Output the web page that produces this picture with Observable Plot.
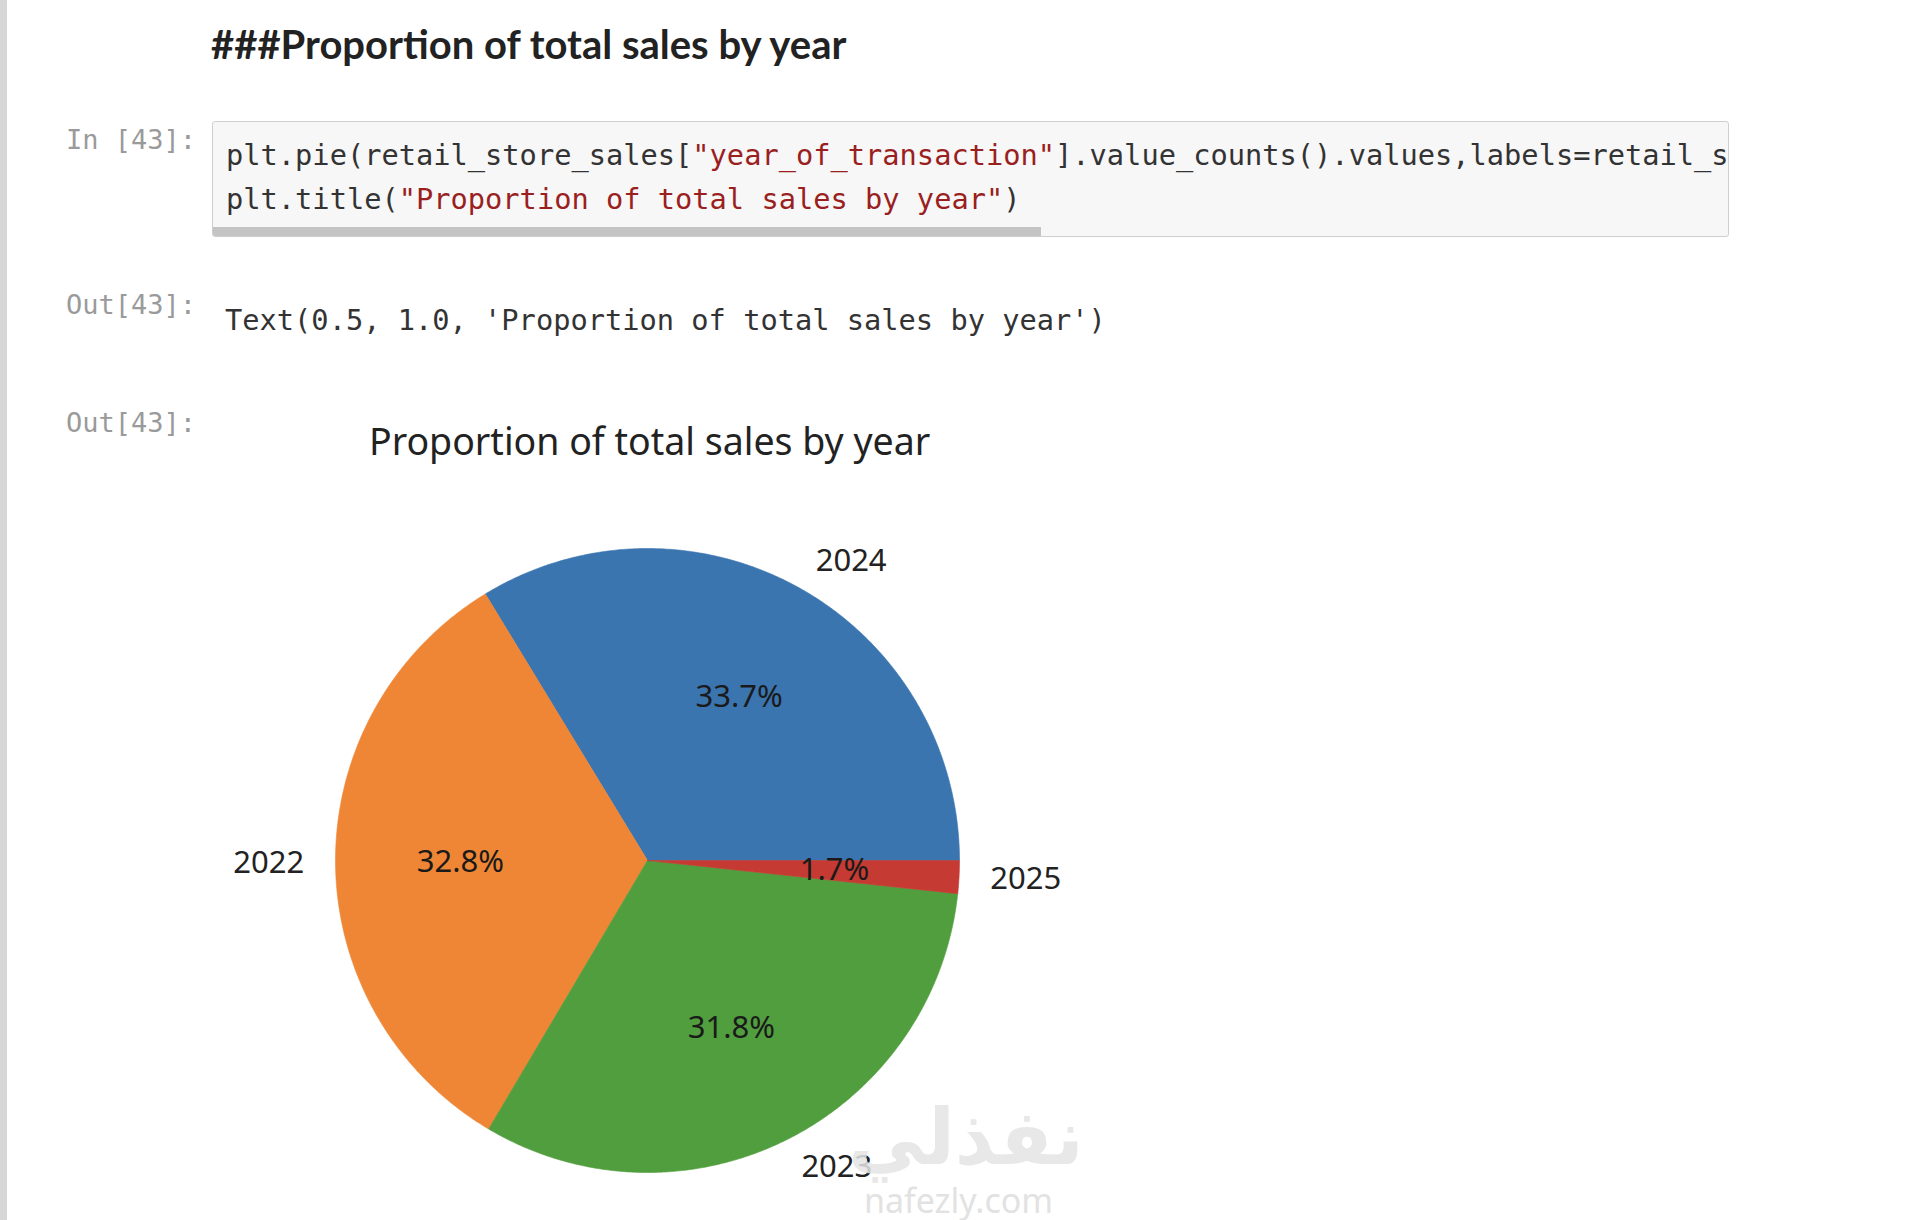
<!DOCTYPE html>
<html>
<head>
<meta charset="utf-8">
<script src="https://cdn.jsdelivr.net/npm/d3@7"></script>
<script src="https://cdn.jsdelivr.net/npm/@observablehq/plot@0.6"></script>
<style>
  html, body { margin: 0; padding: 0; background: #fff; }
  body { width: 1920px; height: 1220px; position: relative; overflow: hidden; }
  .abs { position: absolute; white-space: pre; }
  .bar { left: 0; top: 0; width: 7px; height: 1220px; background: #d6d6d6; }
  .hdr { left: 211px; top: 20px; font-family: Lato, "Noto Sans", sans-serif; font-weight: 700; font-size: 40px; line-height: 48px; color: #222; }
  .prompt { font-family: "DejaVu Sans Mono", monospace; font-size: 27px; line-height: 30px; color: #9a9a9a; text-align: right; width: 196px; left: 0; }
  .code { left: 212px; top: 121px; width: 1515px; height: 114px; background: #f7f7f7; border: 1px solid #cfcfcf; border-radius: 3px; overflow: hidden; }
  .mono { font-family: "DejaVu Sans Mono", monospace; font-size: 28.7px; line-height: 34px; color: #333; }
  .str { color: #9a1f1f; }
  .scroll { left: 0; bottom: 0; width: 828px; height: 9px; background: #c4c4c4; }
  .ctitle { left: 369px; top: 417px; font-family: "Noto Sans", sans-serif; font-size: 37.5px; line-height: 48px; color: #222; }
  #chart { position: absolute; left: 147px; top: 502px; }
  .wm1 { left: 848px; top: 1088px; font-family: "DejaVu Sans", sans-serif; font-weight: 700; font-size: 77px; line-height: 100px; color: #e4e4e4; opacity: 0.85; }
  .wm2 { left: 864px; top: 1180px; font-family: "Noto Sans", sans-serif; font-size: 34px; line-height: 40px; color: #e2e2e2; }
</style>
</head>
<body>
<div class="abs bar"></div>
<div class="abs hdr">###Proportion of total sales by year</div>

<div class="abs prompt" style="top:125px">In [43]:</div>
<div class="abs code">
  <div class="abs mono" style="left:13px; top:16px">plt.pie(retail_store_sales[<span class="str">"year_of_transaction"</span>].value_counts().values,labels=retail_store_sales["year_of_transaction"].value_counts().index,autopct="%1.1f%%")</div>
  <div class="abs mono" style="left:13px; top:60px">plt.title(<span class="str">"Proportion of total sales by year"</span>)</div>
  <div class="abs scroll"></div>
</div>

<div class="abs prompt" style="top:290px">Out[43]:</div>
<div class="abs mono" style="left:225px; top:303px">Text(0.5, 1.0, 'Proportion of total sales by year')</div>

<div class="abs prompt" style="top:408px">Out[43]:</div>
<div class="abs ctitle">Proportion of total sales by year</div>

<div id="chart"></div>

<div class="abs wm1">نفذلي</div>
<div class="abs wm2">nafezly.com</div>

<script>
// ---- data ----
const years = ["2024", "2022", "2023", "2025"];
const shares = [33.7, 32.8, 31.8, 1.7];
const pctLabels = ["33.7%", "32.8%", "31.8%", "1.7%"];
const colors = ["#3b75af", "#ef8636", "#519e3e", "#c53a32"];

// ---- geometry derived from data (matplotlib: start at 0°, counter-clockwise) ----
const total = d3.sum(shares);
const cum = [0, ...d3.cumsum(shares)];
const wedgePts = [];
const labelRows = [];
years.forEach((yr, i) => {
  const a0 = cum[i] / total * 2 * Math.PI;
  const a1 = cum[i + 1] / total * 2 * Math.PI;
  const n = Math.max(2, Math.ceil((a1 - a0) / (Math.PI / 360)));
  wedgePts.push({year: yr, x: 0, y: 0});
  for (let k = 0; k <= n; k++) {
    const a = a0 + (a1 - a0) * k / n;
    wedgePts.push({year: yr, x: Math.cos(a), y: Math.sin(a)});
  }
  wedgePts.push({year: yr, x: 0, y: 0});
  const am = (a0 + a1) / 2;
  labelRows.push({
    year: yr, pct: pctLabels[i],
    lx: 1.1 * Math.cos(am), ly: 1.1 * Math.sin(am),
    px: 0.6 * Math.cos(am), py: 0.6 * Math.sin(am)
  });
});

const R = 312, W = 1000, H = 718, cx = 500, cy = 358;
const chart = Plot.plot({
  width: W, height: H,
  marginTop: 0, marginRight: 0, marginBottom: 0, marginLeft: 0,
  style: {background: "transparent", fontFamily: "'Noto Sans', sans-serif"},
  x: {domain: [-cx / R, (W - cx) / R], axis: null},
  y: {domain: [-(H - cy) / R, cy / R], axis: null},
  color: {domain: years, range: colors},
  marks: [
    Plot.line(wedgePts, {x: "x", y: "y", z: "year", fill: "year", stroke: "year", strokeWidth: 0.6, curve: "linear"}),
    Plot.text(labelRows.filter(d => d.lx >= 0), {x: "lx", y: "ly", text: "year", textAnchor: "start", fontSize: 31, fill: "#222"}),
    Plot.text(labelRows.filter(d => d.lx < 0), {x: "lx", y: "ly", text: "year", textAnchor: "end", fontSize: 31, fill: "#222"}),
    Plot.text(labelRows, {x: "px", y: "py", text: "pct", textAnchor: "middle", fontSize: 31, fill: "#1a1a1a"})
  ]
});
document.getElementById("chart").appendChild(chart);
</script>
</body>
</html>
